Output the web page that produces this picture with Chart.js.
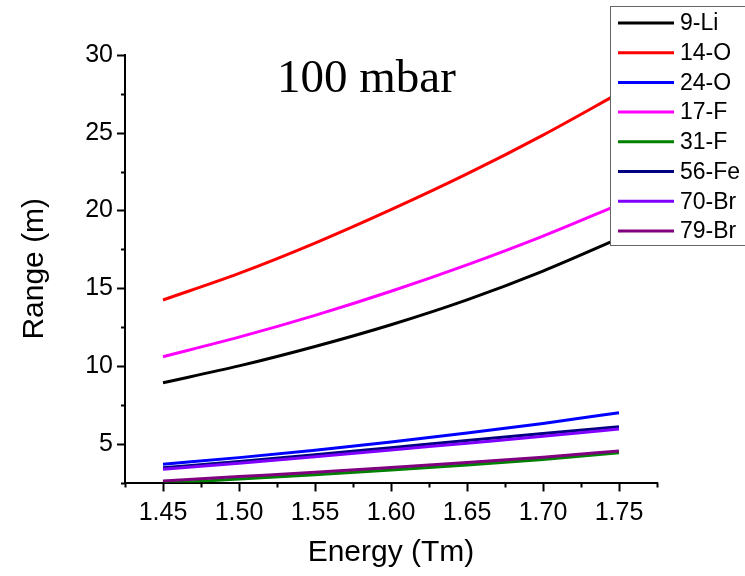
<!DOCTYPE html>
<html>
<head>
<meta charset="utf-8">
<script src="https://cdn.jsdelivr.net/npm/chart.js@4/dist/chart.umd.min.js"></script>
<style>
  html, body { margin: 0; padding: 0; background: #fff; }
  #wrap { width: 745px; height: 576px; position: relative; }
</style>
</head>
<body>
<div id="wrap"><canvas id="chart" width="745" height="576"></canvas></div>
<script>
// Energy (Tm) on x
const energy = [1.45, 1.50, 1.55, 1.60, 1.65, 1.70, 1.75];

// Range (m) per isotope
const li9  = [8.92, 10.0, 11.25, 12.65, 14.25, 16.1, 18.2];
const o14  = [14.24, 15.95, 17.9, 20.05, 22.35, 24.85, 27.55];
const o24  = [3.67, 4.1, 4.57, 5.1, 5.68, 6.3, 6.99];
const f17  = [10.59, 11.85, 13.25, 14.8, 16.5, 18.35, 20.38];
const f31  = [2.45, 2.72, 3.0, 3.3, 3.62, 3.98, 4.42];
const fe56 = [3.45, 3.85, 4.28, 4.74, 5.2, 5.65, 6.09];
const br70 = [3.35, 3.74, 4.15, 4.59, 5.03, 5.47, 5.94];
const br79 = [2.6, 2.88, 3.16, 3.46, 3.78, 4.13, 4.53];

const seriesNames = ["9-Li", "14-O", "24-O", "17-F", "31-F", "56-Fe", "70-Br", "79-Br"];
const seriesData = [li9, o14, o24, f17, f31, fe56, br70, br79];
const seriesColors = ["#000000", "#ff0000", "#0000ff", "#ff00ff", "#008000", "#000080", "#8000ff", "#800080"];

const xTicksMajor = 0.05;
const yTicksMajor = 5;

const isMajor = (v, step) => Math.abs(v / step - Math.round(v / step)) < 1e-6;

/* ---- minor / major tick marks, Origin style ---- */
const tickMarks = {
  id: "tickMarks",
  afterDraw(chart) {
    const ctx = chart.ctx;
    const xs = chart.scales.x, ys = chart.scales.y;
    ctx.save();
    ctx.strokeStyle = "#000";
    ctx.lineWidth = 2;
    xs.ticks.forEach(t => {
      const px = Math.round(xs.getPixelForValue(t.value)) + 0.5;
      const len = isMajor(t.value, xTicksMajor) ? 9 : 5;
      ctx.beginPath();
      ctx.moveTo(px, xs.top);
      ctx.lineTo(px, xs.top + len);
      ctx.stroke();
    });
    ys.ticks.forEach(t => {
      const py = Math.round(ys.getPixelForValue(t.value)) + 0.5;
      const len = isMajor(t.value, yTicksMajor) ? 8 : 4;
      ctx.beginPath();
      ctx.moveTo(ys.right, py);
      ctx.lineTo(ys.right - len, py);
      ctx.stroke();
    });
    ctx.restore();
  }
};

/* ---- "100 mbar" note + boxed legend at top right ---- */
const overlay = {
  id: "overlay",
  afterDraw(chart) {
    const ctx = chart.ctx;
    ctx.save();
    ctx.fillStyle = "#000";
    ctx.font = '47px "Liberation Serif", "Times New Roman", serif';
    ctx.textBaseline = "alphabetic";
    ctx.textAlign = "left";
    ctx.fillText("100 mbar", 277, 92);

    // legend box
    const bx = 610.5, by = 6.5, bw = 140, bh = 239;
    ctx.fillStyle = "#fff";
    ctx.fillRect(bx, by, bw, bh);
    ctx.strokeStyle = "#666";
    ctx.lineWidth = 1;
    ctx.strokeRect(bx, by, bw, bh);

    ctx.font = '23px "Liberation Sans", Arial, sans-serif';
    ctx.textBaseline = "middle";
    chart.data.datasets.forEach((ds, i) => {
      const cy = 23 + i * 29.7;
      ctx.strokeStyle = ds.borderColor;
      ctx.lineWidth = 3;
      ctx.beginPath();
      ctx.moveTo(618, cy);
      ctx.lineTo(674, cy);
      ctx.stroke();
      ctx.fillStyle = "#000";
      ctx.fillText(ds.label, 680, cy + 1);
    });
    ctx.restore();
  }
};

const datasets = seriesNames.map((name, i) => ({
  label: name,
  data: energy.map((e, j) => ({ x: e, y: seriesData[i][j] })),
  borderColor: seriesColors[i],
  backgroundColor: seriesColors[i],
  borderWidth: 3,
  pointRadius: 0,
  cubicInterpolationMode: "monotone",
  fill: false,
  order: -i
}));

const axisFont = { family: '"Liberation Sans", Arial, sans-serif', size: 25 };
const titleFont = { family: '"Liberation Sans", Arial, sans-serif', size: 30 };

new Chart(document.getElementById("chart"), {
  type: "line",
  data: { datasets },
  options: {
    responsive: false,
    animation: false,
    events: [],
    layout: { padding: { top: 55, right: 88, bottom: 0, left: 0 } },
    plugins: {
      legend: { display: false },
      tooltip: { enabled: false }
    },
    scales: {
      x: {
        type: "linear",
        min: 1.425,
        max: 1.775,
        afterFit: s => { s.height = 93.5; },
        border: { display: true, color: "#000", width: 2 },
        grid: { display: false, drawTicks: false },
        ticks: {
          stepSize: 0.025,
          padding: 16,
          color: "#000",
          font: axisFont,
          maxRotation: 0,
          autoSkip: false,
          callback: v => isMajor(v, xTicksMajor) ? v.toFixed(2) : ""
        },
        title: {
          display: true,
          text: "Energy (Tm)",
          color: "#000",
          font: titleFont,
          padding: { top: 0, bottom: 5 }
        }
      },
      y: {
        type: "linear",
        min: 2.5,
        max: 30,
        afterFit: s => { s.width = 125; },
        border: { display: true, color: "#000", width: 2 },
        grid: { display: false, drawTicks: false },
        ticks: {
          stepSize: 2.5,
          padding: 12,
          color: "#000",
          font: axisFont,
          autoSkip: false,
          callback: v => isMajor(v, yTicksMajor) ? String(Math.round(v)) : ""
        },
        title: {
          display: true,
          text: "Range (m)",
          color: "#000",
          font: titleFont,
          padding: { top: 17, bottom: 0 }
        }
      }
    }
  },
  plugins: [tickMarks, overlay]
});
</script>
</body>
</html>
